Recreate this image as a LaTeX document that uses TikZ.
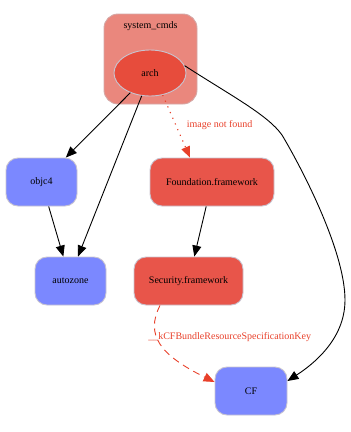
\documentclass[tikz,border=0pt]{standalone}
\usepackage{fontspec}
\setmainfont{Liberation Serif}
\usetikzlibrary{arrows.meta,positioning,shapes.geometric}
\definecolor{clusterfill}{HTML}{EA877D}
\definecolor{clusterdraw}{HTML}{D4A8A6}
\definecolor{libred}{HTML}{E8554A}
\definecolor{archred}{HTML}{E74C3C}
\definecolor{sysblue}{HTML}{7B88FF}
\definecolor{bordergray}{HTML}{C8C4D0}
\definecolor{linkred}{HTML}{E8402A}
\tikzset{
  every picture/.append style={font=\fontsize{10}{12}\selectfont},
  lib/.style     = {rectangle, rounded corners=12pt, draw=bordergray,
                    line width=0.9pt, minimum height=48pt, inner sep=2pt},
  libr/.style    = {lib, fill=libred},
  libb/.style    = {lib, fill=sysblue},
  dep/.style     = {draw=black, line width=0.9pt,
                    -{Triangle[length=11pt,width=9pt]}},
  depmiss/.style = {draw=linkred, line width=0.9pt,
                    -{Triangle[length=11pt,width=9pt]}},
  elab/.style    = {font=\fontsize{10}{12}\selectfont, text=linkred, inner sep=1pt},
}
\begin{document}
\begin{tikzpicture}[x=1pt,y=-1pt]
  \useasboundingbox (0,0) rectangle (351,432);
  % cluster
  \node[rectangle, rounded corners=14pt, fill=clusterfill, draw=clusterdraw,
        line width=0.9pt, minimum width=93pt, minimum height=90pt]
        (syscmds) at (150.5,59) {};
  \node[anchor=north] (syslab) at (150.5,18) {system\_cmds};
  \node[ellipse, fill=archred, draw=bordergray, line width=0.9pt,
        minimum width=72pt, minimum height=46pt, inner sep=0pt]
        (arch) at (150,73) {arch};

  \node[libb, minimum width=71pt] (objc4)    at (41.5,182)  {objc4};
  \node[libb, minimum width=71pt] (autozone) at (70.5,281)  {autozone};
  \node[libr, minimum width=124pt] (found)   at (212,182)   {Foundation.framework};
  \node[libr, minimum width=109pt] (secur)   at (188.5,281) {Security.framework};
  \node[libb, minimum width=72pt] (cf)       at (251,391)   {CF};

  \draw[dep] (arch) -- (objc4);
  \draw[dep] (arch.-110) -- (autozone.north east -| 78,0);
  \draw[dep] (objc4) -- (autozone);
  \draw[dep] (found) -- (secur);
  \draw[depmiss, line width=1.1pt, dash pattern=on 1.2pt off 5pt] (arch.-60) --
    node[elab, right, xshift=9pt, yshift=1pt] {image not found} (found.north -| 190,0);
  \draw[depmiss, dash pattern=on 7pt off 5pt] (secur.south west -| 160,0)
    .. controls (145,335) and (160,355) ..
    node[elab, pos=0.3, right=-8pt, yshift=-7pt] {\_\_kCFBundleResourceSpecificationKey} (cf.west |- 0,382);
  \draw[dep] (arch.12) .. controls (230,95) and (268,115) .. (282,135)
    .. controls (300,165) and (345,250) .. (345,300)
    .. controls (345,340) and (312,365) .. (cf.east |- 0,381);
\end{tikzpicture}
\end{document}
